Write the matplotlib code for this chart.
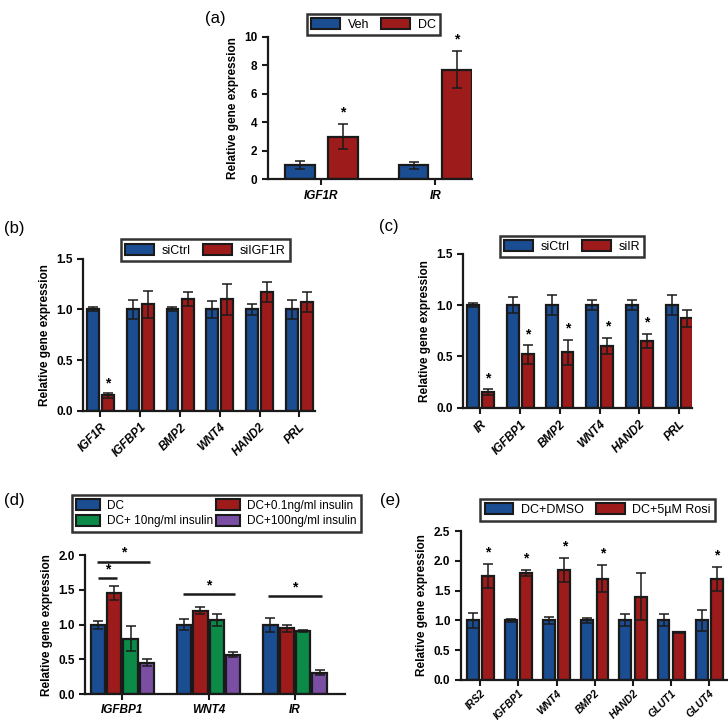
import numpy as np
import matplotlib
matplotlib.use("Agg")
from matplotlib import pyplot as plt
from matplotlib.patches import Patch

plt.rcParams['font.family'] = ['Liberation Sans', 'DejaVu Sans']

BLUE = "#1a4d91"
RED = "#9e1b1b"
GREEN = "#0b8a48"
PURPLE = "#7a4fa3"
EDGE = "#1a1a1a"

# (a)
a_genes = ["IGF1R", "IR"]
a_veh = [1.0, 1.0]
a_veh_err = [0.3, 0.25]
a_dc = [3.0, 7.7]
a_dc_err = [0.85, 1.3]

# (b)
b_genes = ["IGF1R", "IGFBP1", "BMP2", "WNT4", "HAND2", "PRL"]
b_ctrl = [1.0, 1.0, 1.0, 1.0, 1.0, 1.0]
b_ctrl_err = [0.02, 0.09, 0.02, 0.08, 0.05, 0.09]
b_si = [0.15, 1.05, 1.1, 1.1, 1.17, 1.07]
b_si_err = [0.02, 0.13, 0.07, 0.15, 0.1, 0.1]
b_star = [True, False, False, False, False, False]

# (c)
c_genes = ["IR", "IGFBP1", "BMP2", "WNT4", "HAND2", "PRL"]
c_ctrl = [1.0, 1.0, 1.0, 1.0, 1.0, 1.0]
c_ctrl_err = [0.02, 0.08, 0.1, 0.05, 0.05, 0.1]
c_si = [0.15, 0.52, 0.54, 0.6, 0.65, 0.87]
c_si_err = [0.03, 0.09, 0.12, 0.08, 0.07, 0.08]
c_star = [True, True, True, True, True, False]

# (d)
d_genes = ["IGFBP1", "WNT4", "IR"]
d_labels = ["DC", "DC+0.1ng/ml insulin", "DC+ 10ng/ml insulin", "DC+100ng/ml insulin"]
d_vals = [[1.0, 1.0, 1.0],
          [1.45, 1.2, 0.95],
          [0.8, 1.07, 0.91],
          [0.45, 0.57, 0.31]]
d_errs = [[0.06, 0.08, 0.1],
          [0.1, 0.05, 0.05],
          [0.18, 0.09, 0.01],
          [0.05, 0.03, 0.03]]
# significance lines: (x start, x end, y)
d_sig = [(-0.29, 0.32, 1.91), (-0.28, -0.06, 1.67),
         (0.70, 1.31, 1.44), (1.69, 2.31, 1.41)]

# (e)
e_genes = ["IRS2", "IGFBP1", "WNT4", "BMP2", "HAND2", "GLUT1", "GLUT4"]
e_dmso = [1.0, 1.0, 1.0, 1.0, 1.0, 1.0, 1.0]
e_dmso_err = [0.13, 0.03, 0.06, 0.04, 0.1, 0.1, 0.17]
e_rosi = [1.75, 1.8, 1.85, 1.7, 1.4, 0.8, 1.7]
e_rosi_err = [0.2, 0.05, 0.2, 0.23, 0.4, 0.01, 0.2]
e_star = [True, True, True, True, False, False, True]

fig = plt.figure(figsize=(7.28, 7.23), dpi=100)


def style(ax, ylim, yticks, fmt):
    for s in ["top", "right"]:
        ax.spines[s].set_visible(False)
    for s in ["left", "bottom"]:
        ax.spines[s].set_linewidth(1.6)
        ax.spines[s].set_color(EDGE)
    ax.set_ylim(*ylim)
    ax.set_yticks(yticks)
    ax.set_yticklabels([fmt.format(t) for t in yticks], fontweight="bold", fontsize=8.5)
    ax.tick_params(axis="both", width=1.5, length=4, color=EDGE)
    ax.set_ylabel("Relative gene expression", fontweight="bold", fontsize=8.5)


def bars(ax, x, vals, errs, color, w):
    ax.bar(x, vals, w, color=color, edgecolor=EDGE, linewidth=1.6, zorder=2)
    ax.errorbar(x, vals, yerr=errs, fmt="none", ecolor=EDGE, elinewidth=1.1,
                capsize=3.5, capthick=1.1, zorder=3)


def star(ax, x, y):
    ax.text(x, y, "*", ha="center", va="bottom", fontsize=10, fontweight="bold")


def legend_box(ax, handles, bbox, ncol, fs=9, colsp=1.0, hl=2.3):
    leg = ax.legend(handles=handles, loc="center", bbox_to_anchor=bbox,
                    bbox_transform=fig.transFigure, ncol=ncol, frameon=True,
                    fancybox=False, fontsize=fs, handlelength=hl, handleheight=1.0,
                    columnspacing=colsp, handletextpad=0.6, borderpad=0.35,
                    labelspacing=0.3)
    leg.get_frame().set_edgecolor("black")
    leg.get_frame().set_linewidth(1.8)


def patch(c, lab):
    return Patch(facecolor=c, edgecolor=EDGE, linewidth=1.5, label=lab)


# ---- (a)
ax = fig.add_axes([0.368, 0.752, 0.280, 0.197])
x = np.arange(len(a_genes))
bars(ax, x - 0.19, a_veh, a_veh_err, BLUE, 0.26)
bars(ax, x + 0.19, a_dc, a_dc_err, RED, 0.26)
for i in range(len(a_genes)):
    star(ax, x[i] + 0.19, a_dc[i] + a_dc_err[i] + 0.35)
style(ax, (0, 10), [0, 2, 4, 6, 8, 10], "{:.0f}")
ax.set_xlim(-0.47, 1.32)
ax.set_xticks(x)
ax.set_xticklabels(a_genes, fontweight="bold", style="italic", fontsize=8.5)
legend_box(ax, [patch(BLUE, "Veh"), patch(RED, "DC")], (0.513, 0.966), 2)
fig.text(0.282, 0.985, "(a)", fontsize=12, va="top")

# ---- (b)
ax = fig.add_axes([0.114, 0.432, 0.319, 0.210])
x = np.arange(len(b_genes))
bars(ax, x - 0.19, b_ctrl, b_ctrl_err, BLUE, 0.3)
bars(ax, x + 0.19, b_si, b_si_err, RED, 0.3)
for i in range(len(b_genes)):
    if b_star[i]:
        star(ax, x[i] + 0.19, b_si[i] + b_si_err[i] + 0.03)
style(ax, (0, 1.5), [0, 0.5, 1.0, 1.5], "{:.1f}")
ax.set_xlim(-0.44, 5.4)
ax.set_xticks(x)
ax.set_xticklabels(b_genes, fontweight="bold", style="italic", fontsize=8.5,
                   rotation=45, ha="right", rotation_mode="anchor")
legend_box(ax, [patch(BLUE, "siCtrl"), patch(RED, "siIGF1R")], (0.282, 0.654), 2)
fig.text(0.005, 0.695, "(b)", fontsize=12, va="top")

# ---- (c)
ax = fig.add_axes([0.636, 0.436, 0.315, 0.213])
x = np.arange(len(c_genes))
bars(ax, x - 0.19, c_ctrl, c_ctrl_err, BLUE, 0.3)
bars(ax, x + 0.19, c_si, c_si_err, RED, 0.3)
for i in range(len(c_genes)):
    if c_star[i]:
        star(ax, x[i] + 0.19, c_si[i] + c_si_err[i] + 0.04)
style(ax, (0, 1.5), [0, 0.5, 1.0, 1.5], "{:.1f}")
ax.set_xlim(-0.44, 5.33)
ax.set_xticks(x)
ax.set_xticklabels(c_genes, fontweight="bold", style="italic", fontsize=8.5,
                   rotation=45, ha="right", rotation_mode="anchor")
legend_box(ax, [patch(BLUE, "siCtrl"), patch(RED, "siIR")], (0.786, 0.659), 2)
fig.text(0.52, 0.697, "(c)", fontsize=12, va="top")

# ---- (d)
ax = fig.add_axes([0.117, 0.040, 0.357, 0.192])
x = np.arange(len(d_genes))
offs = [-0.285, -0.095, 0.095, 0.285]
cols = [BLUE, RED, GREEN, PURPLE]
for k in range(4):
    bars(ax, x + offs[k], d_vals[k], d_errs[k], cols[k], 0.165)
for x0, x1, yy in d_sig:
    ax.plot([x0, x1], [yy, yy], color=EDGE, lw=1.8, solid_capstyle="butt", clip_on=False)
    star(ax, (x0 + x1) / 2, yy + 0.03)
style(ax, (0, 2.0), [0, 0.5, 1.0, 1.5, 2.0], "{:.1f}")
ax.set_xlim(-0.43, 2.58)
ax.set_xticks(x)
ax.set_xticklabels(d_genes, fontweight="bold", style="italic", fontsize=8.5)
legend_box(ax, [patch(BLUE, d_labels[0]), patch(GREEN, d_labels[2]),
                patch(RED, d_labels[1]), patch(PURPLE, d_labels[3])],
           (0.297, 0.290), 2, fs=8.5, colsp=0.3, hl=2.0)
fig.text(0.005, 0.308, "(d)", fontsize=12, va="center")

# ---- (e)
ax = fig.add_axes([0.633, 0.0595, 0.366, 0.206])
x = np.arange(len(e_genes))
bars(ax, x - 0.2, e_dmso, e_dmso_err, BLUE, 0.31)
bars(ax, x + 0.2, e_rosi, e_rosi_err, RED, 0.31)
for i in range(len(e_genes)):
    if e_star[i]:
        star(ax, x[i] + 0.2, e_rosi[i] + e_rosi_err[i] + 0.08)
style(ax, (0, 2.5), [0, 0.5, 1.0, 1.5, 2.0, 2.5], "{:.1f}")
ax.set_xlim(-0.51, 6.47)
ax.set_xticks(x)
ax.set_xticklabels(e_genes, fontweight="bold", style="italic", fontsize=7.5,
                   rotation=45, ha="right", rotation_mode="anchor")
ax.tick_params(axis="x", pad=2)
legend_box(ax, [patch(BLUE, "DC+DMSO"), patch(RED, "DC+5µM Rosi")], (0.821, 0.295), 2)
fig.text(0.522, 0.308, "(e)", fontsize=12, va="center")

fig.savefig("out.png", dpi=100)
